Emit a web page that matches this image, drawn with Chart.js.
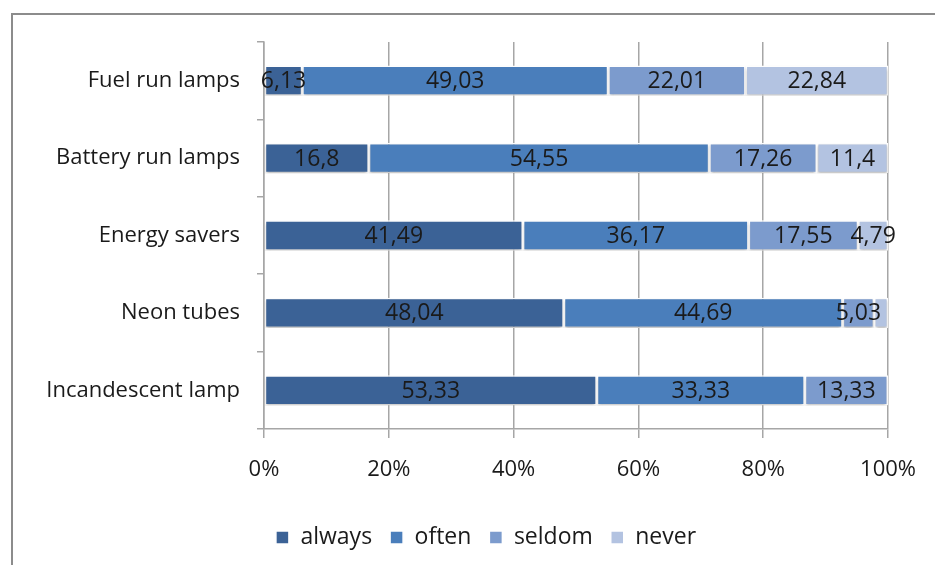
<!DOCTYPE html>
<html>
<head>
<meta charset="utf-8">
<script src="https://cdn.jsdelivr.net/npm/chart.js@4"></script>
<style>
  html, body { margin: 0; padding: 0; background: #fff; }
  #wrap { position: relative; width: 935px; height: 565px; overflow: hidden; }
  #frame { position: absolute; left: 11px; top: 13px; width: 960px; height: 600px;
           border-left: 2px solid #8c8c8c; border-top: 2px solid #8c8c8c; }
  canvas { position: absolute; left: 0; top: 0; }
</style>
</head>
<body>
<div id="wrap">
  <div id="frame"></div>
  <canvas id="chart" width="935" height="565"></canvas>
</div>
<script>
// categories (top to bottom)
var categories = ['Fuel run lamps', 'Battery run lamps', 'Energy savers', 'Neon tubes', 'Incandescent lamp'];

// series values, in %
var always = [6.13, 16.8, 41.49, 48.04, 53.33];
var often  = [49.03, 54.55, 36.17, 44.69, 33.33];
var seldom = [22.01, 17.26, 17.55, 5.03, 13.33];
var never  = [22.84, 11.4, 4.79, 2.24, 0.01];

var seriesNames = ['always', 'often', 'seldom', 'never'];
var xTicks = [0, 20, 40, 60, 80, 100];

var colors = ['#3b6296', '#4a7ebb', '#7c9bcd', '#b3c3e1'];
var fontFamily = '"Open Sans", sans-serif';

// draws the numbers inside each segment
var valueLabels = {
  id: 'valueLabels',
  afterDatasetsDraw: function (chart) {
    var ctx = chart.ctx;
    ctx.save();
    ctx.font = '23px ' + fontFamily;
    ctx.fillStyle = '#1a1a1a';
    ctx.textAlign = 'center';
    ctx.textBaseline = 'middle';
    chart.data.datasets.forEach(function (ds, i) {
      chart.getDatasetMeta(i).data.forEach(function (bar, j) {
        var v = ds.data[j];
        if (v < 3) return;
        var cx = (bar.x + bar.base) / 2;
        ctx.fillText(String(v).replace('.', ','), cx, bar.y + 1);
      });
    });
    ctx.restore();
  }
};

// soft shadow under the bars
var barShadow = {
  id: 'barShadow',
  beforeDatasetsDraw: function (chart) {
    var ctx = chart.ctx;
    ctx.save();
    ctx.shadowColor = 'rgba(0,0,0,0.25)';
    ctx.shadowBlur = 3;
    ctx.shadowOffsetY = 2;
  },
  afterDatasetsDraw: function (chart) {
    chart.ctx.restore();
  }
};

// move the legend a little to the right, as in the original
var legendShift = {
  id: 'legendShift',
  afterLayout: function (chart) {
    var lg = chart.legend;
    var d = 486 - (lg.left + lg.right) / 2;
    lg.left += d;
    lg.right += d;
  }
};

var ctx = document.getElementById('chart').getContext('2d');
var myChart = new Chart(ctx, {
  type: 'bar',
  data: {
    labels: categories,
    datasets: [always, often, seldom, never].map(function (d, i) {
      return {
        label: seriesNames[i],
        data: d,
        backgroundColor: colors[i],
        borderColor: '#ffffff',
        borderWidth: 1.5,
        borderSkipped: false,
        barPercentage: 0.8,
        categoryPercentage: 0.49
      };
    })
  },
  options: {
    indexAxis: 'y',
    responsive: false,
    animation: false,
    layout: { padding: { left: 0, right: 40, top: 42, bottom: 6 } },
    scales: {
      x: {
        stacked: true,
        min: 0,
        max: 100,
        afterBuildTicks: function (scale) {
          scale.ticks = xTicks.map(function (v) { return { value: v }; });
        },
        afterFit: function (scale) { scale.height = 79; },
        grid: { color: '#a6a6a6', lineWidth: 1.5, tickLength: 9, drawTicks: true },
        border: { color: '#a6a6a6', width: 1.5 },
        ticks: {
          padding: 19,
          color: '#1a1a1a',
          font: { family: fontFamily, size: 22 },
          callback: function (value) { return value + '%'; }
        }
      },
      y: {
        stacked: true,
        afterFit: function (scale) { scale.width = 264; },
        grid: { drawOnChartArea: false, color: '#a6a6a6', lineWidth: 1.5, tickLength: 7 },
        border: { color: '#a6a6a6', width: 1.5 },
        ticks: {
          padding: 17,
          color: '#1a1a1a',
          font: { family: fontFamily, size: 22 }
        }
      }
    },
    plugins: {
      legend: {
        position: 'bottom',
        labels: {
          boxWidth: 13,
          boxHeight: 13,
          padding: 18,
          color: '#1a1a1a',
          font: { family: fontFamily, size: 23 }
        }
      },
      tooltip: { enabled: false }
    }
  },
  plugins: [barShadow, valueLabels, legendShift]
});
</script>
</body>
</html>
